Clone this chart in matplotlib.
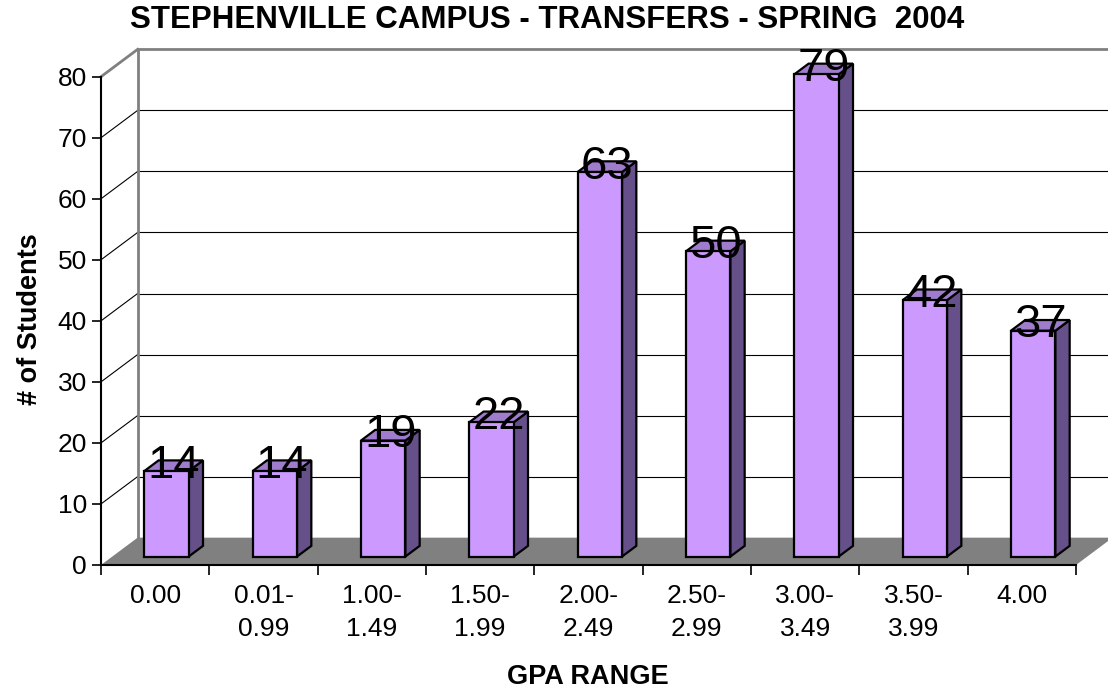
import numpy as np
import matplotlib

matplotlib.use("Agg")
import matplotlib.pyplot as plt
from matplotlib.patches import Polygon

# ===================== Data =====================
gpa_ranges = ["0.00", "0.01-\n0.99", "1.00-\n1.49", "1.50-\n1.99", "2.00-\n2.49",
              "2.50-\n2.99", "3.00-\n3.49", "3.50-\n3.99", "4.00"]
students = [14, 14, 19, 22, 63, 50, 79, 42, 37]
y_ticks = [0, 10, 20, 30, 40, 50, 60, 70, 80]

# ===================== Style =====================
plt.rcParams.update({
    "font.family": ["Liberation Sans", "DejaVu Sans"],
    "font.size": 19,
})

FRONT = "#CC99FF"
SIDE = "#66508A"
TOP = "#A07CCC"
FLOOR = "#808080"
WALL = "#808080"

# 3D look: depth offset of the back wall (in data units)
DX, DY = 0.338, 4.48
F0, F1 = 0.31, 0.70   # bar depth span (fraction of full depth)
BAR_W = 0.41

fig = plt.figure(figsize=(11.08, 6.9), dpi=100)
fig.patch.set_facecolor("white")
ax = fig.add_axes([101 / 1108, 125 / 690, 975 / 1108, 488.3 / 690])
ax.set_facecolor("none")
n = len(students)
x = np.arange(n)
ax.set_xlim(-0.5, n - 0.5)
ax.set_ylim(0, 80)

x0, x1 = -0.5, n - 0.5

# ===================== Walls / grid =====================
for yv in y_ticks[1:-1]:
    ax.plot([x0 + DX, x1 + DX + 0.2], [yv + DY, yv + DY], color="black",
            lw=0.8, clip_on=False, zorder=1)
    ax.plot([x0, x0 + DX], [yv, yv + DY], color="black", lw=0.8,
            clip_on=False, zorder=1)
# back wall frame
ax.plot([x0 + DX, x0 + DX, x1 + DX + 0.2], [DY, 80 + DY, 80 + DY],
        color=WALL, lw=2.0, clip_on=False, zorder=1, solid_joinstyle="miter")
ax.plot([x0, x0 + DX], [80, 80 + DY], color=WALL, lw=2.0, clip_on=False,
        zorder=1)

# floor
ax.add_patch(Polygon([(x0, 0), (x1, 0), (x1 + DX, DY), (x0 + DX, DY)],
                     closed=True, facecolor=FLOOR, edgecolor="none",
                     clip_on=False, zorder=2))

# ===================== Bars =====================
for i, v in enumerate(students):
    xl = i - BAR_W / 2 + F0 * DX
    xr = xl + BAR_W
    b = F0 * DY
    t = v + F0 * DY
    ddx = (F1 - F0) * DX
    ddy = (F1 - F0) * DY
    kw = dict(closed=True, edgecolor="black", lw=1.6, joinstyle="miter",
              clip_on=False, zorder=3)
    ax.add_patch(Polygon([(xr, b), (xr + ddx, b + ddy), (xr + ddx, t + ddy),
                          (xr, t)], facecolor=SIDE, **kw))
    ax.add_patch(Polygon([(xl, t), (xr, t), (xr + ddx, t + ddy),
                          (xl + ddx, t + ddy)], facecolor=TOP, **kw))
    ax.add_patch(Polygon([(xl, b), (xr, b), (xr, t), (xl, t)],
                         facecolor=FRONT, **kw))
    mid = (F0 + F1) / 2
    ax.text(i + mid * DX, v + mid * DY, str(v), ha="center", va="center",
            fontsize=34, color="black", zorder=5, clip_on=False)

# ===================== Axes =====================
for sp in ["top", "right"]:
    ax.spines[sp].set_visible(False)
for sp in ["left", "bottom"]:
    ax.spines[sp].set_linewidth(1.5)
    ax.spines[sp].set_color("black")
    ax.spines[sp].set_zorder(4)

ax.set_yticks(y_ticks)
ax.tick_params(axis="y", direction="out", length=6.5, width=1.2, pad=3.5)

ax.set_xticks(x)
ax.set_xticklabels(gpa_ranges, linespacing=1.45)
ax.set_xticks(np.arange(n + 1) - 0.5, minor=True)
ax.tick_params(axis="x", which="major", length=0, pad=14)
ax.tick_params(axis="x", which="minor", direction="out", length=7, width=1.2)

ax.set_xlabel("GPA RANGE", fontweight="bold", fontsize=19.5, va="center")
ax.xaxis.set_label_coords(0.5 + (588 - 588.5) / 975, (565 - 677) / 488.3)
ax.set_ylabel("# of Students", fontweight="bold", fontsize=19.5,
              va="center", ha="center")
ax.yaxis.set_label_coords((30 - 101) / 975, (565 - 319) / 488.3)

fig.text(547 / 1108, 1 - 20 / 690, "STEPHENVILLE CAMPUS - TRANSFERS - SPRING  2004",
         ha="center", va="center", fontsize=22.5, fontweight="bold")

fig.savefig("out.png", dpi=100)
